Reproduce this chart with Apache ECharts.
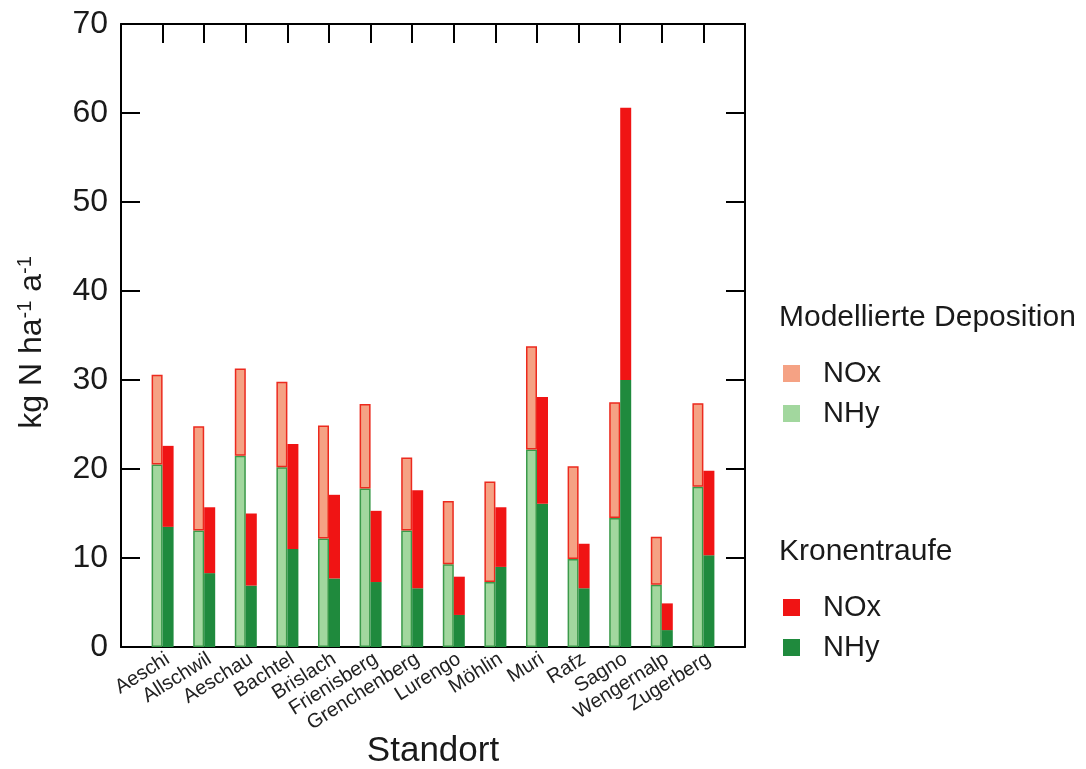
<!DOCTYPE html>
<html>
<head>
<meta charset="utf-8">
<script src="https://cdn.jsdelivr.net/npm/echarts@6/dist/echarts.min.js"></script>
<style>
    html, body { margin: 0; padding: 0; background: #fff; }
    #chart { width: 1086px; height: 769px; }
</style>
</head>
<body>
<div id="chart"></div>
<script>
var standorte = ["Aeschi", "Allschwil", "Aeschau", "Bachtel", "Brislach", "Frienisberg", "Grenchenberg", "Lurengo", "Möhlin", "Muri", "Rafz", "Sagno", "Wengernalp", "Zugerberg"];
// Modellierte Deposition (kg N ha-1 a-1)
var modellNHy = [20.5, 13.1, 21.5, 20.2, 12.2, 17.8, 13.1, 9.3, 7.3, 22.2, 9.9, 14.5, 7.0, 18.0];
var modellNOx = [10.1, 11.7, 9.8, 9.6, 12.7, 9.5, 8.2, 7.1, 11.3, 11.6, 10.4, 13.0, 5.4, 9.4];
// Kronentraufe
var kronNHy = [13.5, 8.3, 6.9, 11.0, 7.7, 7.3, 6.6, 3.6, 9.0, 16.1, 6.6, 30.0, 1.9, 10.3];
var kronNOx = [9.1, 7.4, 8.1, 11.8, 9.4, 8.0, 11.0, 4.3, 6.7, 12.0, 5.0, 30.6, 3.0, 9.5];
var yTicks = [0, 10, 20, 30, 40, 50, 60, 70];

(function() {
    // leere Kategorie links und rechts, damit die Balken Abstand zum Rahmen haben
    function pad(arr) {
        return ["-"].concat(arr, ["-"]);
    }
    var cats = [""].concat(standorte, [""]);
    var font = "'Liberation Sans', Arial, sans-serif";

    let myChart = echarts.init(document.getElementById("chart"));
    let option = {
        animation: false,
        textStyle: { fontFamily: font },
        title: [{
            text: "Modellierte Deposition",
            left: 779,
            top: 303,
            padding: 0,
            textStyle: { fontSize: 30, fontWeight: "normal", color: "#1a1a1a", fontFamily: font }
        }, {
            text: "Kronentraufe",
            left: 779,
            top: 537,
            padding: 0,
            textStyle: { fontSize: 30, fontWeight: "normal", color: "#1a1a1a", fontFamily: font }
        }],
        legend: [{
            orient: "vertical",
            left: 783,
            top: 359,
            padding: 0,
            icon: "rect",
            itemWidth: 17,
            itemHeight: 17,
            itemGap: 11,
            formatter: function(name) { return name.split(" ")[1]; },
            textStyle: { fontSize: 29, color: "#1a1a1a", padding: [0, 0, 0, 18] },
            data: [
                { name: "Modellierte NOx", itemStyle: { borderWidth: 0 } },
                { name: "Modellierte NHy", itemStyle: { borderWidth: 0 } }
            ]
        }, {
            orient: "vertical",
            left: 783,
            top: 593,
            padding: 0,
            icon: "rect",
            itemWidth: 17,
            itemHeight: 17,
            itemGap: 11,
            formatter: function(name) { return name.split(" ")[1]; },
            textStyle: { fontSize: 29, color: "#1a1a1a", padding: [0, 0, 0, 18] },
            data: ["Kronentraufe NOx", "Kronentraufe NHy"]
        }],
        grid: {
            left: 121,
            right: 341,
            top: 24,
            bottom: 122,
            outerBoundsMode: "none"
        },
        xAxis: [{
            type: "category",
            data: cats,
            boundaryGap: false,
            position: "bottom",
            name: "Standort",
            nameLocation: "middle",
            nameGap: 87,
            nameMoveOverlap: false,
            nameTextStyle: { fontSize: 35, color: "#1a1a1a" },
            axisLine: { onZero: false, lineStyle: { color: "#000", width: 2 } },
            axisTick: { show: false },
            axisLabel: {
                interval: 0,
                rotate: 32,
                margin: 2,
                verticalAlign: "top",
                fontSize: 20,
                color: "#222"
            }
        }, {
            type: "category",
            data: cats,
            boundaryGap: false,
            position: "top",
            axisLine: { onZero: false, lineStyle: { color: "#000", width: 2 } },
            axisTick: { show: true, inside: true, length: 19, interval: 0, lineStyle: { color: "#000", width: 2 } },
            axisLabel: { show: false }
        }],
        yAxis: [{
            type: "value",
            min: yTicks[0],
            max: yTicks[yTicks.length - 1],
            interval: 10,
            name: "kg N ha{sup|-1} a{sup|-1}",
            nameLocation: "middle",
            nameGap: 72,
            nameMoveOverlap: false,
            nameTextStyle: {
                fontSize: 32,
                color: "#1a1a1a",
                padding: [0, 14, 0, 0],
                rich: {
                    sup: { fontSize: 20, verticalAlign: "top", padding: [0, 0, 14, 0], color: "#1a1a1a" }
                }
            },
            axisLine: { show: true, onZero: false, lineStyle: { color: "#000", width: 2 } },
            axisTick: { show: true, inside: true, length: 19, lineStyle: { color: "#000", width: 2 } },
            axisLabel: { fontSize: 32, color: "#1a1a1a", margin: 13 },
            splitLine: { show: false }
        }, {
            type: "value",
            position: "right",
            min: yTicks[0],
            max: yTicks[yTicks.length - 1],
            interval: 10,
            axisLine: { show: true, onZero: false, lineStyle: { color: "#000", width: 2 } },
            axisTick: { show: true, inside: true, length: 19, lineStyle: { color: "#000", width: 2 } },
            axisLabel: { show: false },
            splitLine: { show: false }
        }],
        series: [{
            name: "Modellierte NHy",
            type: "bar",
            stack: "modell",
            barWidth: 11,
            barGap: "0%",
            data: pad(modellNHy),
            itemStyle: { color: "#a2d79e", borderColor: "#3b9a4a", borderWidth: 1.5 }
        }, {
            name: "Modellierte NOx",
            type: "bar",
            stack: "modell",
            barWidth: 11,
            barGap: "0%",
            data: pad(modellNOx),
            itemStyle: { color: "#f5a284", borderColor: "#ec2a1e", borderWidth: 1.5 }
        }, {
            name: "Kronentraufe NHy",
            type: "bar",
            stack: "krone",
            barWidth: 11,
            barGap: "0%",
            data: pad(kronNHy),
            itemStyle: { color: "#1f8a3d" }
        }, {
            name: "Kronentraufe NOx",
            type: "bar",
            stack: "krone",
            barWidth: 11,
            barGap: "0%",
            data: pad(kronNOx),
            itemStyle: { color: "#f01414" }
        }]
    };
    myChart.setOption(option);
    window.addEventListener("resize", function() {
        myChart.resize();
    });
})();
</script>
</body>
</html>
